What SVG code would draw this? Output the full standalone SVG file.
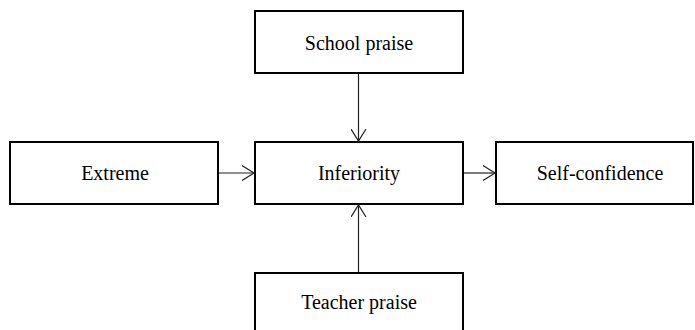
<svg xmlns="http://www.w3.org/2000/svg" width="695" height="330" viewBox="0 0 695 330">
<style>
.box{fill:#fff;stroke:#000;stroke-width:2}
.lbl{font-family:"Liberation Serif","Times New Roman",serif;font-size:20px;fill:#000;text-anchor:middle}
.con{stroke:#222;stroke-width:1.2;fill:none}
</style>
<defs>
<marker id="arr" markerWidth="14" markerHeight="16" refX="12" refY="8" orient="auto" markerUnits="userSpaceOnUse">
<path d="M0,0.5 L12,8 L0,15.5" fill="none" stroke="#222" stroke-width="1.2"/>
</marker>
</defs>
<rect width="695" height="330" fill="#fff"/>
<g id="school">
<rect class="box" x="255" y="11" width="208" height="62"/>
<text class="lbl" x="359" y="50">School praise</text>
</g>
<g id="inferiority">
<rect class="box" x="255" y="142" width="208" height="62"/>
<text class="lbl" x="359" y="180">Inferiority</text>
</g>
<g id="extreme">
<rect class="box" x="10" y="142" width="208" height="62"/>
<text class="lbl" x="115" y="180">Extreme</text>
</g>
<g id="selfconf">
<rect class="box" x="496" y="142" width="197" height="62"/>
<text class="lbl" x="600" y="180">Self-confidence</text>
</g>
<g id="teacher">
<rect class="box" x="255" y="273" width="208" height="70"/>
<text class="lbl" x="359" y="309">Teacher praise</text>
</g>
<g id="connectors">
<line class="con" x1="358.5" y1="74" x2="358.5" y2="141" marker-end="url(#arr)"/>
<line class="con" x1="219" y1="173" x2="254" y2="173" marker-end="url(#arr)"/>
<line class="con" x1="464" y1="173" x2="495" y2="173" marker-end="url(#arr)"/>
<line class="con" x1="358.5" y1="272" x2="358.5" y2="205" marker-end="url(#arr)"/>
</g>
</svg>
